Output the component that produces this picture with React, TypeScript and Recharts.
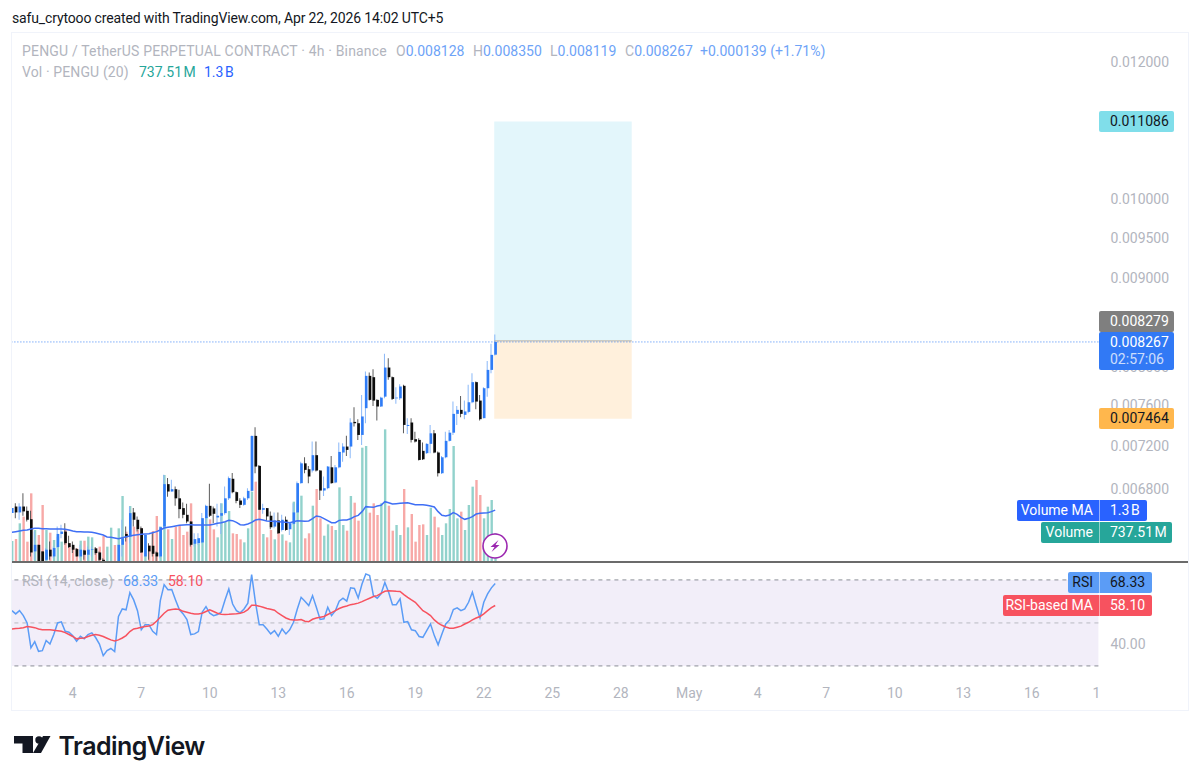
import React from "react";
import {
  ComposedChart,
  Bar,
  Line,
  Cell,
  XAxis,
  YAxis,
  ReferenceArea,
  ReferenceLine,
} from "recharts";

// Prices are in millionths of USDT (6582 = 0.006582), one entry per 4h candle.
const opens = [
  6582, 6640, 6588, 6640, 6602, 6529, 6255, 6310, 6255, 6185, 6269, 6213, 6291, 6402, 6422, 6324,
  6310, 6274, 6213, 6263, 6227, 6269, 6280, 6246, 6185, 6110, 6130, 6150, 6130, 6310, 6402, 6380,
  6588, 6524, 6451, 6213, 6302, 6302, 6246, 6213, 6465, 6841, 6774, 6795, 6713, 6626, 6567, 6509,
  6319, 6324, 6330, 6538, 6646, 6623, 6544, 6559, 6582, 6713, 6890, 6768, 6693, 6655, 6713, 6780,
  7295, 7009, 6611, 6626, 6559, 6465, 6518, 6436, 6524, 6442, 6489, 6588, 6850, 7033, 6978, 6966,
  7110, 6966, 6783, 6804, 6996, 6856, 6996, 7135, 7192, 7192, 7432, 7419, 7304, 7569, 7902, 7888,
  7653, 7586, 7686, 7990, 7888, 7669, 7669, 7798, 7392, 7426, 7263, 7256, 7151, 7129, 7218, 7320,
  7135, 6941, 7090, 7247, 7326, 7512, 7552, 7502, 7532, 7629, 7836, 7646, 7469, 7773, 7965, 8128,
];
const highs = [
  6640, 6670, 6670, 6759, 6640, 6602, 6422, 6310, 6255, 6283, 6338, 6296, 6465, 6480, 6494, 6386,
  6338, 6283, 6310, 6269, 6296, 6296, 6291, 6255, 6199, 6140, 6155, 6155, 6310, 6524, 6465, 6640,
  6626, 6553, 6465, 6394, 6324, 6408, 6255, 6465, 6926, 6896, 6881, 6820, 6789, 6675, 6664, 6509,
  6408, 6408, 6582, 6655, 6844, 6640, 6664, 6670, 6820, 6911, 6942, 6774, 6713, 6728, 6804, 7295,
  7379, 7018, 6664, 6626, 6597, 6588, 6588, 6567, 6553, 6500, 6670, 6865, 7049, 7090, 7009, 7240,
  7240, 6972, 6911, 7009, 7103, 7018, 7231, 7224, 7295, 7469, 7579, 7459, 7703, 7948, 7937, 7972,
  7659, 7686, 8137, 8090, 7895, 7784, 7815, 7808, 7469, 7469, 7336, 7272, 7231, 7224, 7402, 7352,
  7145, 7103, 7336, 7352, 7636, 7592, 7693, 7646, 7808, 7930, 7843, 7703, 7784, 8061, 8247, 8350,
];
const lows = [
  6518, 6538, 6524, 6559, 6509, 6213, 6185, 6165, 6165, 6171, 6185, 6199, 6283, 6366, 6310, 6283,
  6241, 6213, 6199, 6185, 6185, 6213, 6227, 6171, 6165, 6100, 6120, 6120, 6120, 6213, 6338, 6324,
  6465, 6422, 6241, 6213, 6185, 6213, 6171, 6199, 6451, 6728, 6774, 6646, 6538, 6538, 6494, 6296,
  6296, 6310, 6324, 6494, 6547, 6494, 6465, 6402, 6567, 6698, 6759, 6670, 6626, 6646, 6698, 6774,
  6941, 6611, 6576, 6518, 6442, 6451, 6402, 6422, 6430, 6394, 6480, 6582, 6844, 6941, 6850, 6948,
  6957, 6699, 6734, 6795, 6844, 6850, 6987, 7049, 7103, 7081, 7386, 7256, 7208, 7419, 7646, 7592,
  7445, 7580, 7669, 7860, 7653, 7613, 7653, 7320, 7314, 7231, 7231, 7059, 7065, 7122, 7129, 7129,
  6911, 6935, 7081, 7240, 7304, 7402, 7479, 7459, 7519, 7619, 7559, 7445, 7469, 7686, 7930, 8119,
];
const closes = [
  6626, 6588, 6640, 6597, 6524, 6246, 6310, 6171, 6171, 6269, 6213, 6283, 6402, 6422, 6324, 6291,
  6269, 6213, 6269, 6227, 6269, 6274, 6241, 6185, 6171, 6130, 6150, 6130, 6310, 6366, 6374, 6582,
  6524, 6442, 6246, 6394, 6255, 6235, 6213, 6459, 6841, 6774, 6795, 6713, 6617, 6567, 6509, 6310,
  6358, 6366, 6538, 6646, 6559, 6576, 6559, 6582, 6713, 6896, 6768, 6690, 6655, 6713, 6780, 7295,
  7003, 6611, 6626, 6553, 6459, 6518, 6408, 6524, 6436, 6494, 6588, 6850, 7033, 6972, 6911, 7110,
  6966, 6783, 6804, 7003, 6850, 6996, 7141, 7192, 7160, 7426, 7419, 7304, 7486, 7902, 7653, 7646,
  7586, 7676, 7990, 7888, 7663, 7676, 7791, 7402, 7402, 7256, 7240, 7065, 7071, 7218, 7320, 7135,
  6941, 7090, 7247, 7326, 7512, 7552, 7512, 7536, 7629, 7836, 7636, 7459, 7773, 7965, 8126, 8267,
];
// Volume and its 20-period average, in millions of PENGU.
const volumes = [
  541, 590, 976, 1140, 525, 1714, 812, 689, 1427, 812, 746, 566, 648, 525, 812, 484,
  402, 361, 549, 549, 648, 631, 361, 402, 664, 402, 869, 443, 853, 1648, 771, 1402,
  894, 812, 853, 689, 443, 787, 1156, 894, 2165, 828, 590, 894, 935, 689, 771, 1468,
  525, 484, 976, 1140, 1074, 828, 631, 1468, 1017, 1279, 730, 713, 582, 508, 853, 1755,
  2001, 1304, 713, 631, 812, 582, 812, 705, 549, 508, 1509, 1468, 1656, 607, 730, 1410,
  1820, 1099, 672, 951, 910, 812, 1861, 935, 795, 1648, 1484, 1041, 2837, 2878, 1238, 1468,
  1181, 1468, 3288, 1410, 795, 935, 689, 1820, 877, 1205, 525, 935, 951, 689, 1361, 1140,
  877, 689, 976, 1328, 2878, 1099, 1263, 812, 1427, 1878, 2042, 1673, 1099, 1386, 1550, 737.51,
];
const volumeMa = [
  754, 771, 787, 803, 812, 836, 853, 853, 844, 844, 836, 836, 836, 836, 828, 812,
  787, 771, 771, 762, 762, 754, 738, 713, 689, 639, 631, 615, 598, 623, 648, 664,
  680, 697, 705, 713, 721, 746, 771, 812, 861, 877, 894, 910, 926, 935, 943, 943,
  935, 935, 935, 935, 935, 951, 976, 992, 1017, 1049, 1041, 1000, 943, 935, 959, 1000,
  1058, 1074, 1058, 1033, 1025, 1025, 1017, 1008, 1000, 992, 1017, 1041, 1033, 1025, 1033, 1090,
  1156, 1140, 1090, 1041, 992, 992, 1049, 1058, 1058, 1090, 1140, 1172, 1263, 1386, 1377, 1369,
  1402, 1418, 1509, 1484, 1451, 1459, 1468, 1476, 1484, 1459, 1435, 1435, 1435, 1418, 1402, 1377,
  1263, 1172, 1156, 1181, 1238, 1197, 1123, 1074, 1099, 1140, 1205, 1222, 1230, 1238, 1263, 1300,
];
const rsi = [
  55.7, 54.2, 55.7, 53.4, 50.0, 38.4, 41.3, 36.8, 37.1, 41.8, 40.2, 44.6, 50.0, 50.5, 46.1, 45.7,
  44.0, 41.5, 43.8, 42.6, 44.6, 45.4, 43.2, 40.2, 34.8, 37.1, 38.1, 36.7, 53.0, 56.5, 56.1, 64.1,
  60.7, 55.7, 46.8, 49.2, 49.2, 46.1, 44.6, 60.4, 67.8, 65.4, 65.5, 60.7, 56.2, 54.2, 51.6, 44.6,
  44.9, 46.0, 55.0, 57.6, 54.5, 53.4, 53.9, 55.0, 60.7, 65.8, 58.8, 55.7, 54.7, 56.5, 59.2, 72.5,
  59.6, 49.1, 49.1, 47.2, 44.9, 46.4, 43.8, 47.2, 44.9, 46.8, 50.3, 56.5, 61.9, 60.1, 58.1, 62.7,
  57.3, 51.6, 51.9, 57.3, 53.4, 55.7, 60.1, 61.5, 60.1, 66.3, 66.0, 61.6, 68.1, 72.8, 72.0, 62.7,
  61.5, 63.5, 68.8, 64.3, 58.5, 58.5, 61.2, 50.3, 50.6, 46.8, 46.4, 43.7, 43.3, 46.4, 49.5, 44.1,
  39.8, 44.9, 49.5, 51.4, 56.2, 57.0, 55.7, 56.5, 59.6, 64.3, 58.1, 52.3, 59.6, 63.5, 66.3, 68.33,
];
const rsiMa = [
  47.2, 47.4, 47.5, 47.8, 48.3, 48.1, 47.8, 47.2, 46.8, 46.8, 46.8, 46.6, 46.4, 46.1, 45.5, 44.6,
  43.7, 42.6, 42.9, 43.0, 43.7, 44.3, 44.6, 44.3, 43.7, 42.9, 42.1, 41.6, 42.1, 43.0, 44.1, 46.0,
  47.2, 47.5, 48.0, 48.3, 48.6, 49.2, 50.8, 52.6, 54.5, 55.9, 56.2, 56.5, 56.2, 55.4, 55.0, 54.5,
  54.2, 54.2, 54.5, 55.3, 56.1, 55.3, 54.5, 54.0, 53.9, 54.0, 54.2, 54.3, 54.5, 55.0, 56.2, 58.2,
  58.2, 57.8, 57.3, 56.7, 56.4, 55.9, 54.5, 53.4, 52.3, 51.6, 51.4, 51.4, 51.6, 50.8, 50.6, 51.7,
  52.3, 52.6, 53.0, 53.9, 54.8, 55.7, 56.7, 57.4, 57.9, 58.5, 58.8, 59.2, 59.9, 60.7, 61.5, 62.3,
  62.7, 63.7, 64.7, 65.0, 64.9, 64.7, 64.6, 63.2, 61.9, 60.7, 59.6, 57.6, 55.7, 54.7, 53.4, 51.4,
  49.9, 48.9, 48.1, 47.5, 47.5, 48.0, 48.5, 49.5, 50.3, 51.4, 52.3, 53.0, 54.2, 55.7, 57.1, 58.1,
];

const priceTicks = [0.012, 0.01, 0.0095, 0.009, 0.008, 0.0076, 0.0072, 0.0068];
const dateTickSlots = [16, 34, 52, 70, 88, 106, 124, 142, 160, 178, 196, 214, 232, 250, 268, 285];
const dateTickLabels = ["4", "7", "10", "13", "16", "19", "22", "25", "28", "May", "4", "7", "10", "13", "16", "1"];

const lastPrice = 0.008267;
const entryPrice = 0.008279;
const targetPrice = 0.011086;
const stopPrice = 0.007464;
// long position tool, in candle slots
const positionFrom = 126.8;
const positionTo = 162.8;

const SLOTS = 286;
const FONT = "'Roboto', sans-serif";
const UP = "#2f7cf6";
const UP_WICK = "#8ab8f8";
const DOWN = "#0c0c0c";
const DOWN_WICK = "#5c5c5c";

const rows = Array.from({ length: SLOTS }, (_, i) => {
  if (i >= opens.length) return { i };
  const o = opens[i] / 1e6;
  const c = closes[i] / 1e6;
  return {
    i,
    up: c >= o,
    wick: [lows[i] / 1e6, highs[i] / 1e6],
    body: [Math.min(o, c), Math.max(o, c)],
    vol: volumes[i],
    volMa: volumeMa[i],
    rsi: rsi[i],
    rsiMa: rsiMa[i],
  };
}) as any[];

const Txt = ({ x, y, color, size, spacing, words, children }: any) => (
  <div
    style={{
      position: "absolute",
      left: x,
      top: y,
      color,
      fontSize: size || 14,
      letterSpacing: spacing || 0,
      wordSpacing: words || 0,
      lineHeight: "20px",
      whiteSpace: "nowrap",
    }}
  >
    {children}
  </div>
);

// Label tag on the price scale, optionally with a title part left of the scale edge
const Tag = ({ x, y, w, h, bg, color, title, value, sub }: any) => (
  <div
    style={{
      position: "absolute",
      left: x,
      top: y,
      width: w,
      height: h,
      background: bg,
      color,
      borderRadius: 2,
      fontSize: 14,
      lineHeight: "21px",
    }}
  >
    {title && (
      <div
        style={{
          position: "absolute",
          right: w - (1099 - x) + 6,
          top: 0,
          whiteSpace: "nowrap",
        }}
      >
        {title}
      </div>
    )}
    {title && (
      <div
        style={{
          position: "absolute",
          left: 1099 - x,
          top: 0,
          width: 1,
          height: h,
          background: "rgba(255,255,255,0.5)",
        }}
      />
    )}
    <div style={{ position: "absolute", left: 1110 - x, top: 0, whiteSpace: "nowrap", wordSpacing: -2 }}>{value}</div>
    {sub && (
      <div style={{ position: "absolute", left: 1110 - x, top: 17, opacity: 0.75, whiteSpace: "nowrap" }}>
        {sub}
      </div>
    )}
  </div>
);

function PricePane() {
  return (
    <div style={{ position: "absolute", left: 12, top: 33, width: 1176, height: 530, overflow: "hidden" }}>
      <div style={{ position: "absolute", left: -2.4, top: 0 }}>
        <ComposedChart width={1178.4} height={530} data={rows} margin={{ top: 0, right: 0, bottom: 0, left: 0 }}>
          <XAxis xAxisId="vol" dataKey="i" type="category" scale="band" hide />
          <XAxis xAxisId="wick" dataKey="i" type="category" scale="band" hide />
          <XAxis xAxisId="body" dataKey="i" type="category" scale="band" hide />
          <XAxis xAxisId="pos" type="number" domain={[0, SLOTS]} hide />
          <YAxis
            yAxisId="price"
            orientation="right"
            width={90}
            scale="log"
            domain={[0.006159, 0.012474]}
            allowDataOverflow
            ticks={priceTicks}
            interval={0}
            tickFormatter={(v: number) => v.toFixed(6)}
            tick={{ fill: "#b2b5be", fontSize: 14, fontFamily: FONT }}
            tickLine={false}
            axisLine={false}
            tickSize={0}
            tickMargin={12}
          />
          <YAxis yAxisId="volume" hide domain={[0, 13038]} />
          <Bar xAxisId="vol" yAxisId="volume" dataKey="vol" barSize={2.4} isAnimationActive={false}>
            {rows.map((r) => (
              <Cell key={r.i} fill={r.up ? "#92d2cc" : "#f7a9a7"} />
            ))}
          </Bar>
          <ReferenceArea
            xAxisId="pos"
            yAxisId="price"
            x1={positionFrom}
            x2={positionTo}
            y1={entryPrice}
            y2={targetPrice}
            fill="#e3f6fb"
            fillOpacity={1}
            stroke="none"
          />
          <ReferenceArea
            xAxisId="pos"
            yAxisId="price"
            x1={positionFrom}
            x2={positionTo}
            y1={stopPrice}
            y2={entryPrice}
            fill="#fff0dc"
            fillOpacity={1}
            stroke="none"
          />
          <ReferenceLine
            xAxisId="pos"
            yAxisId="price"
            segment={[
              { x: positionFrom, y: entryPrice },
              { x: positionTo, y: entryPrice },
            ]}
            stroke="#b7b2a8"
          />
          <ReferenceLine xAxisId="pos" yAxisId="price" y={lastPrice} stroke="#3f86f6" strokeDasharray="1 2" />
          <Bar xAxisId="wick" yAxisId="price" dataKey="wick" barSize={1} isAnimationActive={false}>
            {rows.map((r) => (
              <Cell key={r.i} fill={r.up ? UP_WICK : DOWN_WICK} />
            ))}
          </Bar>
          <Bar xAxisId="body" yAxisId="price" dataKey="body" barSize={2.6} isAnimationActive={false}>
            {rows.map((r) => (
              <Cell key={r.i} fill={r.up ? UP : DOWN} />
            ))}
          </Bar>
          <Line
            xAxisId="wick"
            yAxisId="volume"
            dataKey="volMa"
            stroke="#3f6ff5"
            strokeWidth={1.5}
            dot={false}
            isAnimationActive={false}
          />
        </ComposedChart>
      </div>
    </div>
  );
}

function RsiPane() {
  return (
    <div style={{ position: "absolute", left: 12, top: 564, width: 1176, height: 146, overflow: "hidden" }}>
      <div style={{ position: "absolute", left: -2.4, top: 0 }}>
        <ComposedChart width={1178.4} height={146} data={rows} margin={{ top: 0, right: 0, bottom: 0, left: 0 }}>
          <XAxis
            dataKey="i"
            type="category"
            scale="band"
            height={26}
            ticks={dateTickSlots}
            interval={0}
            tickFormatter={(v: number) => dateTickLabels[dateTickSlots.indexOf(v)]}
            tick={{ fill: "#b2b5be", fontSize: 14, fontFamily: FONT }}
            tickLine={false}
            axisLine={false}
            tickSize={0}
            tickMargin={4}
          />
          <YAxis
            orientation="right"
            width={90}
            domain={[21.6, 77.4]}
            allowDataOverflow
            ticks={[40]}
            tickFormatter={(v: number) => v.toFixed(2)}
            tick={{ fill: "#b2b5be", fontSize: 14, fontFamily: FONT }}
            tickLine={false}
            axisLine={false}
            tickSize={0}
            tickMargin={12}
          />
          <ReferenceArea y1={30} y2={70} fill="#f2eef9" fillOpacity={1} stroke="none" />
          <ReferenceLine y={70} stroke="#8a8d96" strokeDasharray="4 4" />
          <ReferenceLine y={50} stroke="#b9bac2" strokeDasharray="4 4" />
          <ReferenceLine y={30} stroke="#8a8d96" strokeDasharray="4 4" />
          <Line dataKey="rsi" stroke="#5b9cf6" strokeWidth={1.5} dot={false} isAnimationActive={false} />
          <Line dataKey="rsiMa" stroke="#f7525f" strokeWidth={1.5} dot={false} isAnimationActive={false} />
        </ComposedChart>
      </div>
    </div>
  );
}

export default function App() {
  const blue = "#6ea3f7";
  const gray = "#b2b5be";
  return (
    <div
      style={{
        position: "absolute",
        left: 0,
        top: 0,
        width: 1200,
        height: 782,
        background: "#ffffff",
        fontFamily: FONT,
        overflow: "hidden",
      }}
    >
      <Txt x={12} y={8} color="#131722" spacing={-0.14}>
        safu_crytooo created with TradingView.com, Apr 22, 2026 14:02 UTC+5
      </Txt>
      <div
        style={{
          position: "absolute",
          left: 11,
          top: 32,
          width: 1176,
          height: 677,
          border: "1px solid #f0f3fa",
        }}
      />
      <PricePane />
      <RsiPane />
      <div style={{ position: "absolute", left: 12, top: 561, width: 1176, height: 2, background: "#6b6b6b" }} />

      <Txt x={22} y={41} color={gray} spacing={0.17}>
        PENGU / TetherUS PERPETUAL CONTRACT · 4h · Binance
      </Txt>
      <Txt x={396} y={41} color={gray}>
        O<span style={{ color: blue }}>0.008128</span>
      </Txt>
      <Txt x={473} y={41} color={gray}>
        H<span style={{ color: blue }}>0.008350</span>
      </Txt>
      <Txt x={550} y={41} color={gray}>
        L<span style={{ color: blue }}>0.008119</span>
      </Txt>
      <Txt x={625} y={41} color={gray}>
        C<span style={{ color: blue }}>0.008267</span>
      </Txt>
      <Txt x={700} y={41} color={blue}>
        +0.000139 (+1.71%)
      </Txt>
      <Txt x={22} y={62} color={gray} spacing={0.12}>
        Vol · PENGU (20)
      </Txt>
      <Txt x={139} y={62} color="#26a69a" words={-2}>
        737.51 M
      </Txt>
      <Txt x={204} y={62} color="#2962ff" words={-2}>
        1.3 B
      </Txt>
      <Txt x={22} y={571} color={gray} spacing={0.15}>
        RSI (14, close)
      </Txt>
      <Txt x={123} y={571} color="#5b9cf6">
        68.33
      </Txt>
      <Txt x={168} y={571} color="#f7525f">
        58.10
      </Txt>

      <Tag x={1099} y={111} w={75} h={21} bg="#80deea" color="#131722" value="0.011086" />
      <Tag x={1099} y={311} w={75} h={21} bg="#7f7f7f" color="#ffffff" value="0.008279" />
      <Tag x={1099} y={332} w={75} h={38} bg="#3179f5" color="#ffffff" value="0.008267" sub="02:57:06" />
      <Tag x={1099} y={408} w={75} h={21} bg="#ffb74d" color="#131722" value="0.007464" />
      <Tag x={1017} y={500} w={130} h={21} bg="#2962ff" color="#ffffff" title="Volume MA" value="1.3 B" />
      <Tag x={1041} y={522} w={131} h={21} bg="#26a69a" color="#ffffff" title="Volume" value="737.51 M" />
      <Tag x={1068} y={572} w={84} h={21} bg="#5b9cf6" color="#131722" title="RSI" value="68.33" />
      <Tag x={1003} y={595} w={149} h={21} bg="#f7525f" color="#ffffff" title="RSI-based MA" value="58.10" />

      {/* replay / lightning badge */}
      <svg style={{ position: "absolute", left: 480, top: 531 }} width={30} height={30} viewBox="0 0 30 30">
        <circle cx={15} cy={15} r={12} fill="#ffffff" stroke="#9c27b0" strokeWidth={1.6} />
        <path d="M18.5 9 L10.5 16 L14.5 16 L11.5 21 L19.5 14 L15.5 14 Z" fill="#9c27b0" />
      </svg>

      {/* TradingView logo */}
      <svg style={{ position: "absolute", left: 14, top: 736 }} width={38} height={18} viewBox="0 0 38 18">
        <path d="M0 0 H19 V17 H8.5 V7.5 H0 Z" fill="#131722" />
        <circle cx={25} cy={4} r={3.7} fill="#131722" />
        <path d="M29 0 H36.5 L27 17 H19 Z" fill="#131722" />
      </svg>
      <div
        style={{
          position: "absolute",
          left: 58.5,
          top: 730,
          fontFamily: "'Inter', sans-serif",
          fontSize: 25,
          fontWeight: 600,
          lineHeight: "32px",
          color: "#131722",
          letterSpacing: -0.55,
        }}
      >
        TradingView
      </div>
    </div>
  );
}
